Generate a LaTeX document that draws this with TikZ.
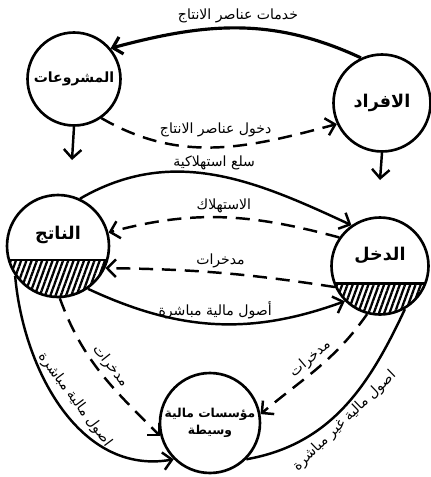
\documentclass[tikz,border=0pt]{standalone}
\usepackage{fontspec}
\setmainfont{DejaVu Sans}
\newfontfamily\arabicfont[Script=Arabic]{DejaVu Sans}
\TeXXeTstate=1
\usepackage{tikz}
\usetikzlibrary{arrows.meta,patterns.meta}
\newcommand{\arb}[1]{\beginR #1\endR}

\begin{document}
\begin{tikzpicture}[
  x=0.02cm, y=-0.02cm,
  sector/.style={draw, circle, line width=1.5pt, inner sep=0pt,
                 minimum size=#1, font=\arabicfont\bfseries},
  hatched/.style={path picture={
      \fill[pattern={Lines[angle=70,distance=2.8pt,line width=1.3pt]}]
        ([yshift=-#1]path picture bounding box.west)
        rectangle (path picture bounding box.south east);
      \draw[line width=1.5pt] ([yshift=-#1]path picture bounding box.west)
        -- ([yshift=-#1]path picture bounding box.east);}},
  real/.style={-{Straight Barb[length=5pt,width=10pt]}, line width=1.4pt},
  money/.style={real, dash pattern=on 8pt off 5pt},
  lbl/.style={font=\arabicfont\footnotesize, inner sep=2pt}
]
\useasboundingbox (0,0) rectangle (431,477);

% the five sectors
\node[sector=1.86cm, font=\arabicfont\bfseries\footnotesize]
  (mash) at (74,79) {\arb{المشروعات}};
\node[sector=1.94cm] (afrad) at (382,103) {\arb{الافراد}};
\node[sector=2.04cm, hatched=8pt,
      label={[font=\arabicfont\bfseries, yshift=6pt]center:\arb{الناتج}}]
  (natij) at (58,246) {};
\node[sector=1.94cm, hatched=10pt,
      label={[font=\arabicfont\bfseries, yshift=6pt]center:\arb{الدخل}}]
  (dakhl) at (380,266) {};
\node[sector=2cm, align=center, font=\arabicfont\bfseries\scriptsize]
  (wasit) at (210,423) {\arb{مؤسسات مالية}\\[2pt]\arb{وسيطة}};

% factor market
\draw[real, line width=1.8pt] (afrad.115) to[out=155, in=15]
  node[lbl, above] {\arb{خدمات عناصر الانتاج}} (mash.40);
\draw[money] (mash.-55) to[out=-30, in=195]
  node[lbl, above, pos=0.5, yshift=3pt] {\arb{دخول عناصر الانتاج}} (afrad.205);

% down to output and income
\coordinate (mashOut) at (72,160);
\draw[real] (mash.-90) -- (mashOut);
\coordinate (afradOut) at (380,180);
\draw[real] (afrad.-90) -- (afradOut);

% goods market
\draw[real] (natij.65) to[out=30, in=155]
  node[lbl, above] {\arb{سلع استهلاكية}} (dakhl.125);
\draw[money] (dakhl.145) to[out=165, in=15]
  node[lbl, above] {\arb{الاستهلاك}} (natij.15);
\draw[money] (dakhl.205) to[bend right=4]
  node[lbl, above] {\arb{مدخرات}} (natij.-25);
\draw[real] (natij.-55) to[out=-25, in=200]
  node[lbl, above] {\arb{أصول مالية مباشرة}} (dakhl.225);

% through the intermediaries
\draw[real] (natij.215) to[out=-85, in=190]
  node[lbl, sloped, above, pos=0.5, inner sep=4pt] {\arb{اصول مالية مباشرة}} (wasit.225);
\draw[money] (natij.-88) to[out=-70, in=135]
  node[lbl, sloped, above] {\arb{مدخرات}} (wasit.195);
\draw[money] (dakhl.255) to[out=235, in=40]
  node[lbl, sloped, above] {\arb{مدخرات}} (wasit.10);
\draw[line width=1.4pt] (wasit.-45) to[out=10, in=245]
  node[lbl, sloped, below, pos=0.46, inner sep=1pt] {\arb{اصول مالية غير مباشرة}} (dakhl.-60);

\end{tikzpicture}
\end{document}
